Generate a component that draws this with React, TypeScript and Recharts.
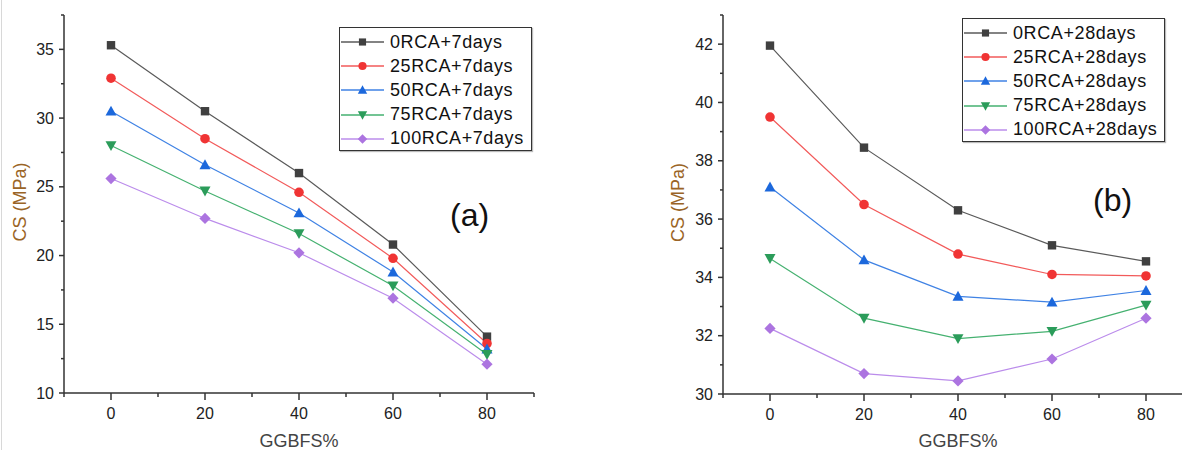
import React from 'react';
import { LineChart, Line, XAxis, YAxis, Legend, Label } from 'recharts';

// GGBFS replacement levels (%)
const ggbfs = [0, 20, 40, 60, 80];

const names7 = ['0RCA+7days', '25RCA+7days', '50RCA+7days', '75RCA+7days', '100RCA+7days'];
const names28 = ['0RCA+28days', '25RCA+28days', '50RCA+28days', '75RCA+28days', '100RCA+28days'];

// compressive strength, 7 days (MPa)
const rca0d7 = [35.3, 30.5, 26.0, 20.8, 14.1];
const rca25d7 = [32.9, 28.5, 24.6, 19.8, 13.6];
const rca50d7 = [30.5, 26.6, 23.1, 18.8, 13.2];
const rca75d7 = [28.0, 24.7, 21.6, 17.8, 12.8];
const rca100d7 = [25.6, 22.7, 20.2, 16.9, 12.1];

// compressive strength, 28 days (MPa)
const rca0d28 = [41.95, 38.45, 36.3, 35.1, 34.55];
const rca25d28 = [39.5, 36.5, 34.8, 34.1, 34.05];
const rca50d28 = [37.1, 34.6, 33.35, 33.15, 33.55];
const rca75d28 = [34.65, 32.6, 31.9, 32.15, 33.05];
const rca100d28 = [32.25, 30.7, 30.45, 31.2, 32.6];

const xTicks = [-10, 0, 10, 20, 30, 40, 50, 60, 70, 80, 90];
const yTicks7 = [10, 12.5, 15, 17.5, 20, 22.5, 25, 27.5, 30, 32.5, 35, 37.5];
const yTicks28 = [30, 31, 32, 33, 34, 35, 36, 37, 38, 39, 40, 41, 42, 43];

const FONT = 'Arial, "Liberation Sans", sans-serif';
const AXIS = '#333';

type Shape = 'square' | 'circle' | 'up' | 'down' | 'diamond';
const styles: { line: string; marker: string; shape: Shape }[] = [
  { line: '#5a5a5a', marker: '#404040', shape: 'square' },
  { line: '#f25a5a', marker: '#f03434', shape: 'circle' },
  { line: '#3f82e4', marker: '#1c68dc', shape: 'up' },
  { line: '#45b170', marker: '#2b9c5a', shape: 'down' },
  { line: '#bb8ceb', marker: '#ac74e0', shape: 'diamond' },
];

const toRows = (series: number[][]) =>
  ggbfs.map((g, i) => {
    const row: Record<string, number> = { g };
    series.forEach((s, k) => (row['s' + k] = s[i]));
    return row;
  });

const data7 = toRows([rca0d7, rca25d7, rca50d7, rca75d7, rca100d7]);
const data28 = toRows([rca0d28, rca25d28, rca50d28, rca75d28, rca100d28]);

const Marker = ({ cx, cy, shape, fill, s = 1 }: { cx: number; cy: number; shape: Shape; fill: string; s?: number }) => {
  if (shape === 'square') {
    const h = 4.2 * s;
    return <rect x={cx - h} y={cy - h} width={h * 2} height={h * 2} fill={fill} />;
  }
  if (shape === 'circle') return <circle cx={cx} cy={cy} r={4.8 * s} fill={fill} />;
  if (shape === 'up') {
    const h = 5.5 * s;
    return <polygon points={`${cx},${cy - h} ${cx + h},${cy + h * 0.8} ${cx - h},${cy + h * 0.8}`} fill={fill} />;
  }
  if (shape === 'down') {
    const h = 5.5 * s;
    return <polygon points={`${cx},${cy + h} ${cx + h},${cy - h * 0.8} ${cx - h},${cy - h * 0.8}`} fill={fill} />;
  }
  const h = 5.6 * s;
  return <polygon points={`${cx},${cy - h} ${cx + h},${cy} ${cx},${cy + h} ${cx - h},${cy}`} fill={fill} />;
};

const makeDot = (k: number) => (props: any) => {
  const { cx, cy, index } = props;
  if (cx == null || cy == null) return <g key={index} />;
  return <Marker key={index} cx={cx} cy={cy} shape={styles[k].shape} fill={styles[k].marker} />;
};

const XTick = (props: any) => {
  const { x, y, payload } = props;
  const v = payload.value;
  const major = v % 20 === 0 && v >= 0 && v <= 80;
  return (
    <g>
      <line x1={x} x2={x} y1={y} y2={y + (major ? 7 : 4)} stroke={AXIS} strokeWidth={1.5} />
      {major && (
        <text x={x} y={y + 20} textAnchor="middle" dominantBaseline="central" fontSize={16} fontFamily={FONT} fill="#222">
          {v}
        </text>
      )}
    </g>
  );
};

const makeYTick = (step: number) => (props: any) => {
  const { x, y, payload } = props;
  const v = payload.value;
  const major = v % step === 0;
  return (
    <g>
      <line x1={x} x2={x - (major ? 5 : 3)} y1={y} y2={y} stroke={AXIS} strokeWidth={1.5} />
      {major && (
        <text x={x - 10} y={y} textAnchor="end" dominantBaseline="central" fontSize={16} fontFamily={FONT} fill="#222">
          {v}
        </text>
      )}
    </g>
  );
};

const makeYLabel = (cx: number) => (props: any) => {
  const vb = props.viewBox || {};
  const cy = (vb.y ?? 15) + (vb.height ?? 378) / 2 - 2;
  return (
    <text
      x={cx}
      y={cy}
      transform={`rotate(-90 ${cx} ${cy})`}
      textAnchor="middle"
      dominantBaseline="central"
      fontSize={18}
      fontFamily={FONT}
      fill="#9a6426"
    >
      CS (MPa)
    </text>
  );
};

const makeLegend = (names: string[]) => () => (
  <div
    style={{
      boxSizing: 'border-box',
      width: '100%',
      height: '100%',
      border: '1.5px solid #333',
      background: '#fff',
      paddingTop: 2,
      boxShadow: '1px 1px 1px #bbb',
    }}
  >
    {names.map((n, i) => (
      <div key={n} style={{ display: 'flex', alignItems: 'center', height: 24.2 }}>
        <svg width={50} height={24} style={{ flex: 'none' }}>
          <line x1={1} x2={44} y1={12} y2={12} stroke={styles[i].line} strokeWidth={1.4} />
          <Marker cx={22.5} cy={12} shape={styles[i].shape} fill={styles[i].marker} s={0.85} />
        </svg>
        <span style={{ fontFamily: FONT, fontSize: 18, letterSpacing: 0.6, color: '#111', whiteSpace: 'nowrap' }}>{n}</span>
      </div>
    ))}
  </div>
);

interface PanelProps {
  data: Record<string, number>[];
  names: string[];
  width: number;
  margin: { top: number; right: number; left: number; bottom: number };
  yDomain: [number, number];
  yTicks: number[];
  yStep: number;
  xHeight: number;
  labelX: number;
  legendBox: { left: number; top: number; width: number; height: number };
}

const Panel = ({ data, names, width, margin, yDomain, yTicks, yStep, xHeight, labelX, legendBox }: PanelProps) => (
  <LineChart width={width} height={450} data={data} margin={margin}>
    <XAxis
      dataKey="g"
      type="number"
      domain={[-10, 90]}
      ticks={xTicks}
      interval={0}
      tickSize={0}
      tickMargin={0}
      tickLine={false}
      tick={XTick}
      height={xHeight}
      axisLine={{ stroke: AXIS, strokeWidth: 1.5 }}
    >
      <Label value="GGBFS%" position="insideBottom" offset={3} fontSize={18} fontFamily={FONT} fill="#444" />
    </XAxis>
    <YAxis
      type="number"
      domain={yDomain}
      ticks={yTicks}
      interval={0}
      allowDataOverflow
      tickSize={0}
      tickMargin={0}
      tickLine={false}
      tick={makeYTick(yStep)}
      width={50}
      axisLine={{ stroke: AXIS, strokeWidth: 1.5 }}
    >
      <Label content={makeYLabel(labelX)} />
    </YAxis>
    <Legend
      layout="vertical"
      align="center"
      verticalAlign="middle"
      content={makeLegend(names)}
      wrapperStyle={{ ...legendBox }}
    />
    {names.map((n, k) => (
      <Line
        key={n}
        name={n}
        dataKey={'s' + k}
        stroke={styles[k].line}
        strokeWidth={1.2}
        dot={makeDot(k)}
        activeDot={false}
        isAnimationActive={false}
      />
    ))}
  </LineChart>
);

const tagStyle: React.CSSProperties = {
  position: 'absolute',
  fontFamily: FONT,
  fontSize: 32,
  color: '#111',
  lineHeight: '32px',
};

export default function App() {
  return (
    <div
      style={{
        position: 'fixed',
        left: 0,
        top: 0,
        width: 1182,
        height: 450,
        overflow: 'hidden',
        background: '#fff',
      }}
    >
      <div style={{ position: 'absolute', left: 1, top: 0, width: 1, height: 450, background: '#d8d8d8' }} />
      <div style={{ position: 'absolute', left: 0, top: 0 }}>
        <Panel
          data={data7}
          names={names7}
          width={590}
          margin={{ top: 15, right: 56, left: 14, bottom: 0 }}
          yDomain={[10, 37.5]}
          yTicks={yTicks7}
          yStep={5}
          xHeight={57}
          labelX={20}
          legendBox={{ left: 339, top: 27, width: 193, height: 124 }}
        />
      </div>
      <div style={{ position: 'absolute', left: 590, top: 0 }}>
        <Panel
          data={data28}
          names={names28}
          width={620}
          margin={{ top: 15, right: 17, left: 83, bottom: 0 }}
          yDomain={[30, 43]}
          yTicks={yTicks28}
          yStep={2}
          xHeight={56}
          labelX={88}
          legendBox={{ left: 372, top: 18, width: 203, height: 124 }}
        />
      </div>
      <div style={{ ...tagStyle, left: 450, top: 199 }}>(a)</div>
      <div style={{ ...tagStyle, left: 1093, top: 184 }}>(b)</div>
    </div>
  );
}
